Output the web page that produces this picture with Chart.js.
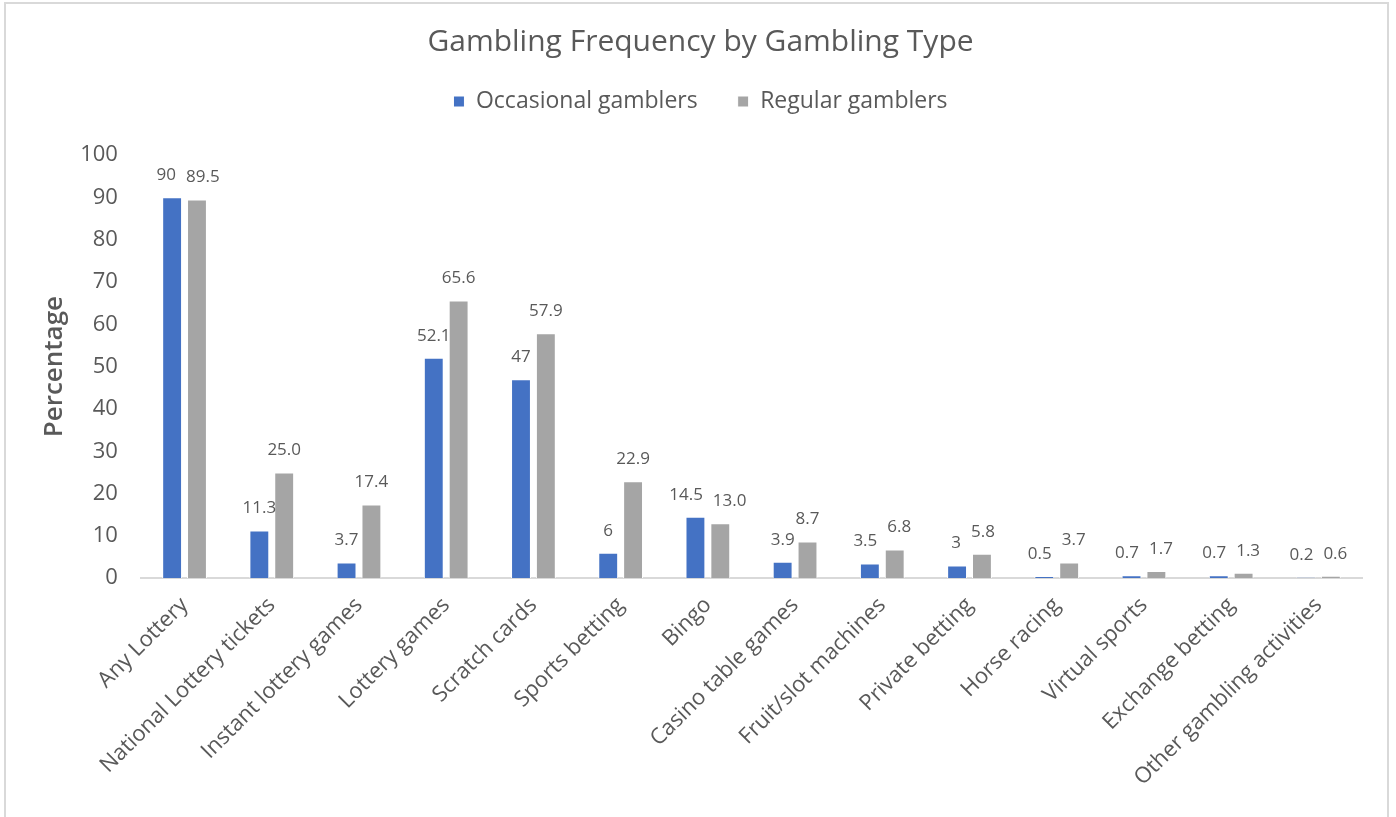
<!DOCTYPE html>
<html>
<head>
<meta charset="utf-8">
<script src="https://cdn.jsdelivr.net/npm/chart.js@4/dist/chart.umd.min.js"></script>
<style>
  html, body { margin: 0; padding: 0; background: #fff; }
  .frame {
    position: absolute; left: 4px; top: 2px;
    width: 1385px; height: 830px;
    border: 2px solid #d9d9d9; box-sizing: border-box;
  }
  .chart-box { position: absolute; left: 0; top: 0; width: 1396px; height: 817px; }
</style>
</head>
<body>
<div class="frame"></div>
<div class="chart-box"><canvas id="freqChart"></canvas></div>
<script>
const categories = [
  'Any Lottery', 'National Lottery tickets', 'Instant lottery games', 'Lottery games',
  'Scratch cards', 'Sports betting', 'Bingo', 'Casino table games', 'Fruit/slot machines',
  'Private betting', 'Horse racing', 'Virtual sports', 'Exchange betting', 'Other gambling activities'
];
const occasional = [90, 11.3, 3.7, 52.1, 47, 6, 14.5, 3.9, 3.5, 3, 0.5, 0.7, 0.7, 0.2];
const regular = [89.5, 25.0, 17.4, 65.6, 57.9, 22.9, 13.0, 8.7, 6.8, 5.8, 3.7, 1.7, 1.3, 0.6];
const yTicks = [0, 10, 20, 30, 40, 50, 60, 70, 80, 90, 100];

const FONT = "'Open Sans', sans-serif";
const TEXT = '#595959';

// value labels above each bar (occasional shown as-is, regular with one decimal);
// a pair of labels that would touch gets pushed apart
const barLabels = {
  id: 'barLabels',
  afterDatasetsDraw(chart) {
    const ctx = chart.ctx;
    const a = chart.getDatasetMeta(0).data;
    const b = chart.getDatasetMeta(1).data;
    const minGap = 10;
    ctx.save();
    ctx.font = "17px " + FONT;
    ctx.fillStyle = TEXT;
    ctx.textAlign = 'center';
    ctx.textBaseline = 'middle';
    categories.forEach((c, i) => {
      const t1 = String(occasional[i]);
      const t2 = regular[i].toFixed(1);
      const w1 = ctx.measureText(t1).width;
      const w2 = ctx.measureText(t2).width;
      let x1 = a[i].x, x2 = b[i].x;
      const y1 = a[i].y - 22, y2 = b[i].y - 22;
      const overlap = (x1 + w1 / 2 + minGap) - (x2 - w2 / 2);
      if (overlap > 0 && Math.abs(y1 - y2) < 18) {
        x1 -= overlap / 2;
        x2 += overlap / 2;
      }
      ctx.fillText(t1, x1, y1);
      ctx.fillText(t2, x2, y2);
    });
    ctx.restore();
  }
};

// leave some extra room between the legend and the plot
const legendGap = {
  id: 'legendGap',
  beforeInit(chart) {
    const legend = chart.legend;
    if (!legend) return;
    const fit = legend.fit;
    legend.fit = function () {
      fit.call(this);
      this.height += 32;
    };
  }
};

const ctx = document.getElementById('freqChart').getContext('2d');
new Chart(ctx, {
  type: 'bar',
  data: {
    labels: categories,
    datasets: [{
      label: 'Occasional gamblers',
      data: occasional,
      backgroundColor: '#4472C4',
      borderColor: '#ffffff',
      borderWidth: 1,
      barPercentage: 0.8,
      categoryPercentage: 0.57
    }, {
      label: 'Regular gamblers',
      data: regular,
      backgroundColor: '#A5A5A5',
      borderColor: '#ffffff',
      borderWidth: 1,
      barPercentage: 0.8,
      categoryPercentage: 0.57
    }]
  },
  options: {
    responsive: true,
    maintainAspectRatio: false,
    animation: false,
    layout: { padding: { left: 39, right: 34, top: 24, bottom: 20 } },
    scales: {
      y: {
        min: 0,
        max: 100,
        afterBuildTicks(axis) { axis.ticks = yTicks.map(v => ({ value: v })); },
        grid: { display: false },
        border: { display: false },
        ticks: { color: TEXT, font: { family: FONT, size: 22 }, padding: 15 },
        title: {
          display: true,
          text: 'Percentage',
          color: TEXT,
          font: { family: FONT, size: 26, weight: '600' },
          padding: { top: 0, bottom: -5 }
        }
      },
      x: {
        grid: { display: false },
        border: { display: true, color: '#d9d9d9', width: 2 },
        ticks: {
          color: TEXT,
          font: { family: FONT, size: 22 },
          minRotation: 45,
          maxRotation: 45,
          autoSkip: false,
          padding: 6
        },
        // rotated labels may hang past the left edge of the plot; don't push it
        afterFit(scale) {
          scale.paddingLeft = 0;
          scale.paddingRight = 0;
        }
      }
    },
    plugins: {
      title: {
        display: true,
        text: 'Gambling Frequency by Gambling Type',
        color: TEXT,
        font: { family: FONT, size: 30, weight: 'normal' },
        padding: { top: 0, bottom: -10 }
      },
      legend: {
        position: 'top',
        labels: {
          color: TEXT,
          font: { family: FONT, size: 23 },
          boxWidth: 11,
          boxHeight: 11,
          padding: 40
        }
      },
      tooltip: { enabled: false }
    }
  },
  plugins: [barLabels, legendGap]
});
</script>
</body>
</html>
